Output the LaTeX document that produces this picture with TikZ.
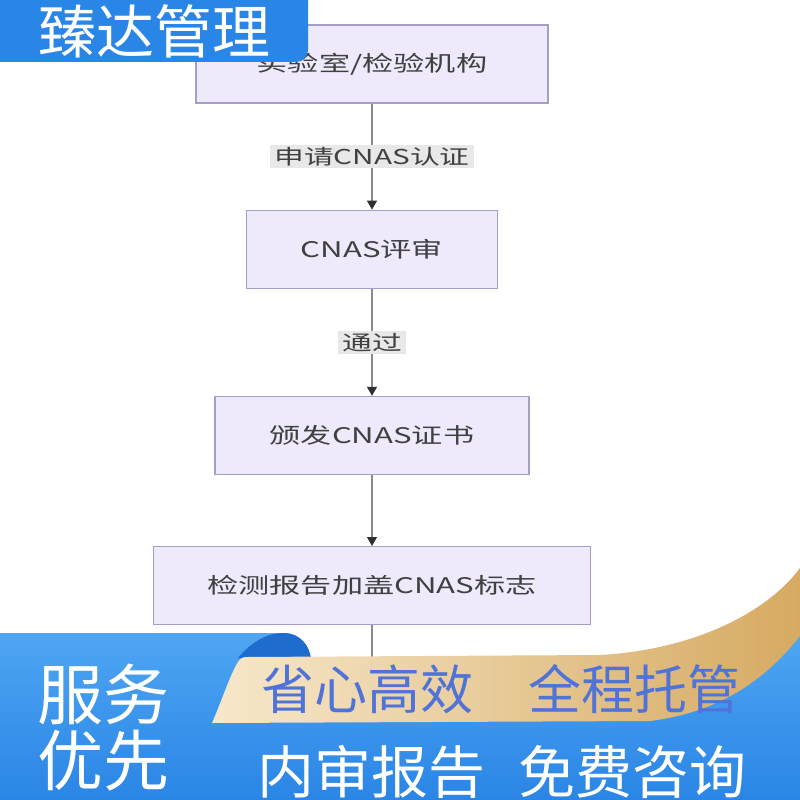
\documentclass[tikz,border=0pt]{standalone}
\usepackage{fontspec}
\setmainfont{Noto Sans CJK SC}
% gedehnte Schrift fuer den Ablauf
\newfontfamily\breit[FakeStretch=1.45]{Noto Sans CJK SC}
\usetikzlibrary{arrows.meta,positioning}
\definecolor{kasten}{HTML}{EEEAFC}
\definecolor{rand}{HTML}{A59EC6}
\definecolor{schrift}{HTML}{404040}
\definecolor{linie}{HTML}{8A8A8A}
\definecolor{spitze}{HTML}{303030}
\definecolor{markegrau}{HTML}{E8E8E8}
\definecolor{logoblau}{HTML}{2A86E6}
\definecolor{bandhell}{HTML}{58AEF6}
\definecolor{banddunkel}{HTML}{2A85E5}
\definecolor{falte}{HTML}{1F6CCF}
\definecolor{goldl}{HTML}{F7E8CB}
\definecolor{goldr}{HTML}{D6AA62}
\definecolor{goldtext}{HTML}{5073D8}
\tikzset{
  schritt/.style={draw=rand,fill=kasten,line width=1.2pt,minimum height=78pt,inner sep=0pt,
    text=schrift,font=\breit\fontsize{21.5}{24}\selectfont},
  pfeil/.style={-{Triangle[length=9pt,width=10pt,color=spitze]},linie,line width=1.3pt},
  marke/.style={fill=markegrau,text=schrift,inner xsep=4pt,inner ysep=2pt,
    font=\breit\fontsize{20.5}{23}\selectfont},
  weiss/.style={text=white,inner sep=0pt},
  gold/.style={text=goldtext,inner sep=0pt,font=\fontsize{53}{60}\selectfont},
}

\begin{document}
\begin{tikzpicture}[x=1pt,y=-1pt]
  \useasboundingbox (0,0) rectangle (800,800);
  \clip (0,0) rectangle (800,800);
  % Ablauf
  \node[schritt,minimum width=352pt] (labor) at (372,64) {实验室/检验机构};
  \node[schritt,minimum width=251pt,below=106pt of labor] (pruefung) {CNAS评审};
  \node[schritt,minimum width=314pt,below=107pt of pruefung] (zertifikat) {颁发CNAS证书};
  \node[schritt,minimum width=437pt,below=71pt of zertifikat] (zeichen) {检测报告加盖CNAS标志};
  \coordinate (ende) at (372,665);
  \draw[pfeil] (labor) -- (pruefung) node[marke,pos=0.5] {申请CNAS认证};
  \draw[pfeil] (pruefung) -- (zertifikat) node[marke,pos=0.5] {通过};
  \draw[pfeil] (zertifikat) -- (zeichen);
  \draw[linie,line width=1.3pt] (zeichen) -- (ende);
  % Logo oben links
  \fill[logoblau,rounded corners=12pt] (-20,-20) rectangle (308,62);
  \node[weiss,font=\fontsize{58}{60}\selectfont] (logo) at (154,31) {臻达管理};
  % Band unten
  \shade[top color=bandhell,bottom color=banddunkel]
    (0,800) -- (0,633) -- (283,633) .. controls (300,633) and (310,645) .. (311,662)
    -- (600,662) .. controls (700,650) and (770,622) .. (800,592) -- (800,800) -- cycle;
  \fill[falte] (238,658) .. controls (252,641) and (268,633) .. (283,633)
    .. controls (300,633) and (309,645) .. (311,658) -- cycle;
  \shade[left color=goldl,right color=goldr]
    (246,657) -- (600,655) .. controls (690,650) and (765,615) .. (800,568)
    -- (800,636) .. controls (765,680) and (720,712) .. (650,721)
    -- (212,723) .. controls (222,700) and (230,675) .. (238,662)
    .. controls (240,659) and (242,657) .. (246,657) -- cycle;
  \node[weiss,font=\fontsize{66}{66}\selectfont,align=center] (dienst) at (103,728) {服务\\优先};
  \node[gold] (sorglos) at (367,689) {省心高效};
  \node[gold] (betreuung) at (634,689) {全程托管};
  \node[weiss,font=\fontsize{57}{60}\selectfont] (bericht) at (371,772) {内审报告};
  \node[weiss,font=\fontsize{57}{60}\selectfont] (beratung) at (632,772) {免费咨询};
\end{tikzpicture}
\end{document}
